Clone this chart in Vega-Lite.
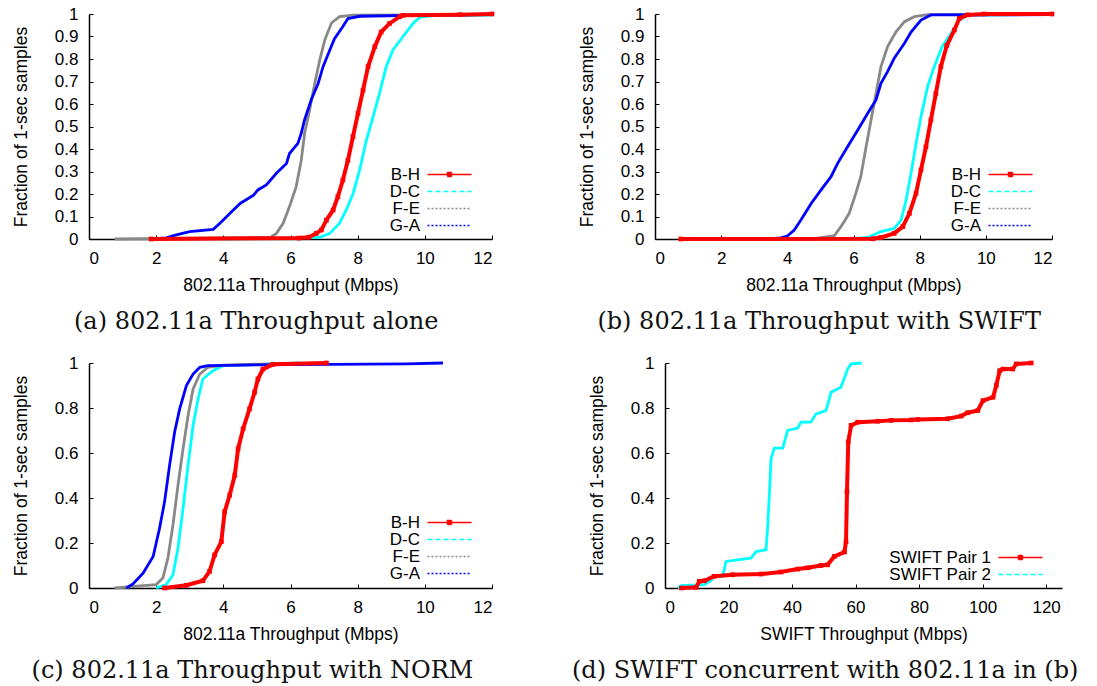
{
  "$schema": "https://vega.github.io/schema/vega-lite/v6.json",
  "padding": {"left": 12, "top": 5, "right": 5, "bottom": 5},
  "background": "white",
  "config": {
    "view": {"stroke": null},
    "axis": {"grid": false, "labelFontSize": 17, "titleFontSize": 17.5, "labelFont": "Liberation Sans", "titleFont": "Liberation Sans"},
    "legend": {"labelFontSize": 17, "labelFont": "Liberation Sans"},
    "title": {"font": "DejaVu Serif", "fontSize": 24}
  },
  "datasets": {
    "a": [
      {"s":"B-H","x":1.85,"f":0},{"s":"B-H","x":6.25,"f":0.004},{"s":"B-H","x":6.55,"f":0.008},{"s":"B-H","x":6.77,"f":0.025},{"s":"B-H","x":6.92,"f":0.04},{"s":"B-H","x":7.07,"f":0.084},{"s":"B-H","x":7.27,"f":0.129},{"s":"B-H","x":7.41,"f":0.188},{"s":"B-H","x":7.56,"f":0.262},{"s":"B-H","x":7.71,"f":0.35},{"s":"B-H","x":7.86,"f":0.455},{"s":"B-H","x":8.01,"f":0.559},{"s":"B-H","x":8.16,"f":0.662},{"s":"B-H","x":8.31,"f":0.766},{"s":"B-H","x":8.51,"f":0.855},{"s":"B-H","x":8.7,"f":0.92},{"s":"B-H","x":8.95,"f":0.958},{"s":"B-H","x":9.25,"f":0.988},{"s":"B-H","x":9.35,"f":0.994},{"s":"B-H","x":11.05,"f":0.997},{"s":"B-H","x":12,"f":1.0},
      {"s":"D-C","x":4.0,"f":0},{"s":"D-C","x":6.87,"f":0.007},{"s":"D-C","x":7.17,"f":0.025},{"s":"D-C","x":7.46,"f":0.07},{"s":"D-C","x":7.66,"f":0.129},{"s":"D-C","x":7.86,"f":0.2},{"s":"D-C","x":8.06,"f":0.307},{"s":"D-C","x":8.26,"f":0.44},{"s":"D-C","x":8.46,"f":0.544},{"s":"D-C","x":8.65,"f":0.647},{"s":"D-C","x":8.85,"f":0.766},{"s":"D-C","x":9.05,"f":0.84},{"s":"D-C","x":9.35,"f":0.9},{"s":"D-C","x":9.65,"f":0.958},{"s":"D-C","x":9.85,"f":0.985},{"s":"D-C","x":10.25,"f":0.993},{"s":"D-C","x":12,"f":0.995},
      {"s":"F-E","x":0.76,"f":0},{"s":"F-E","x":5.4,"f":0.007},{"s":"F-E","x":5.58,"f":0.025},{"s":"F-E","x":5.78,"f":0.07},{"s":"F-E","x":5.97,"f":0.144},{"s":"F-E","x":6.17,"f":0.233},{"s":"F-E","x":6.32,"f":0.35},{"s":"F-E","x":6.42,"f":0.47},{"s":"F-E","x":6.57,"f":0.573},{"s":"F-E","x":6.72,"f":0.69},{"s":"F-E","x":6.87,"f":0.795},{"s":"F-E","x":7.02,"f":0.884},{"s":"F-E","x":7.22,"f":0.96},{"s":"F-E","x":7.46,"f":0.988},{"s":"F-E","x":7.86,"f":0.995},{"s":"F-E","x":12,"f":0.997},
      {"s":"G-A","x":1.9,"f":0},{"s":"G-A","x":2.3,"f":0.005},{"s":"G-A","x":2.6,"f":0.018},{"s":"G-A","x":3.0,"f":0.033},{"s":"G-A","x":3.7,"f":0.043},{"s":"G-A","x":3.9,"f":0.07},{"s":"G-A","x":4.2,"f":0.114},{"s":"G-A","x":4.5,"f":0.158},{"s":"G-A","x":4.9,"f":0.195},{"s":"G-A","x":5.03,"f":0.218},{"s":"G-A","x":5.28,"f":0.24},{"s":"G-A","x":5.58,"f":0.292},{"s":"G-A","x":5.88,"f":0.336},{"s":"G-A","x":5.97,"f":0.38},{"s":"G-A","x":6.22,"f":0.425},{"s":"G-A","x":6.32,"f":0.47},{"s":"G-A","x":6.42,"f":0.53},{"s":"G-A","x":6.62,"f":0.62},{"s":"G-A","x":6.82,"f":0.69},{"s":"G-A","x":6.97,"f":0.766},{"s":"G-A","x":7.17,"f":0.84},{"s":"G-A","x":7.31,"f":0.89},{"s":"G-A","x":7.56,"f":0.944},{"s":"G-A","x":7.71,"f":0.98},{"s":"G-A","x":8.06,"f":0.99},{"s":"G-A","x":10.1,"f":0.995},{"s":"G-A","x":12,"f":0.997}
    ],
    "b": [
      {"s":"B-H","x":0.78,"f":0},{"s":"B-H","x":6.58,"f":0.001},{"s":"B-H","x":6.83,"f":0.007},{"s":"B-H","x":7.23,"f":0.025},{"s":"B-H","x":7.49,"f":0.055},{"s":"B-H","x":7.69,"f":0.114},{"s":"B-H","x":7.89,"f":0.203},{"s":"B-H","x":8.04,"f":0.307},{"s":"B-H","x":8.19,"f":0.41},{"s":"B-H","x":8.34,"f":0.529},{"s":"B-H","x":8.49,"f":0.647},{"s":"B-H","x":8.64,"f":0.766},{"s":"B-H","x":8.82,"f":0.86},{"s":"B-H","x":9.05,"f":0.929},{"s":"B-H","x":9.2,"f":0.981},{"s":"B-H","x":9.45,"f":0.996},{"s":"B-H","x":9.95,"f":1.0},{"s":"B-H","x":12,"f":1.0},
      {"s":"D-C","x":5.9,"f":0},{"s":"D-C","x":6.43,"f":0.007},{"s":"D-C","x":6.83,"f":0.033},{"s":"D-C","x":7.23,"f":0.047},{"s":"D-C","x":7.44,"f":0.084},{"s":"D-C","x":7.59,"f":0.173},{"s":"D-C","x":7.74,"f":0.292},{"s":"D-C","x":7.89,"f":0.425},{"s":"D-C","x":8.04,"f":0.544},{"s":"D-C","x":8.24,"f":0.677},{"s":"D-C","x":8.44,"f":0.766},{"s":"D-C","x":8.68,"f":0.855},{"s":"D-C","x":8.95,"f":0.914},{"s":"D-C","x":9.2,"f":0.973},{"s":"D-C","x":9.45,"f":0.994},{"s":"D-C","x":12,"f":1.0},
      {"s":"F-E","x":4.5,"f":0},{"s":"F-E","x":4.8,"f":0.002},{"s":"F-E","x":5.42,"f":0.015},{"s":"F-E","x":5.62,"f":0.055},{"s":"F-E","x":5.87,"f":0.114},{"s":"F-E","x":6.07,"f":0.203},{"s":"F-E","x":6.22,"f":0.277},{"s":"F-E","x":6.38,"f":0.41},{"s":"F-E","x":6.53,"f":0.529},{"s":"F-E","x":6.68,"f":0.647},{"s":"F-E","x":6.83,"f":0.766},{"s":"F-E","x":7.03,"f":0.855},{"s":"F-E","x":7.28,"f":0.92},{"s":"F-E","x":7.54,"f":0.966},{"s":"F-E","x":7.84,"f":0.988},{"s":"F-E","x":8.24,"f":0.997},{"s":"F-E","x":12,"f":0.998},
      {"s":"G-A","x":3.4,"f":0},{"s":"G-A","x":3.8,"f":0.005},{"s":"G-A","x":4.0,"f":0.013},{"s":"G-A","x":4.21,"f":0.04},{"s":"G-A","x":4.41,"f":0.084},{"s":"G-A","x":4.72,"f":0.158},{"s":"G-A","x":5.02,"f":0.218},{"s":"G-A","x":5.32,"f":0.277},{"s":"G-A","x":5.52,"f":0.336},{"s":"G-A","x":5.82,"f":0.41},{"s":"G-A","x":6.13,"f":0.484},{"s":"G-A","x":6.43,"f":0.559},{"s":"G-A","x":6.68,"f":0.618},{"s":"G-A","x":6.83,"f":0.692},{"s":"G-A","x":7.03,"f":0.744},{"s":"G-A","x":7.23,"f":0.803},{"s":"G-A","x":7.54,"f":0.87},{"s":"G-A","x":7.74,"f":0.92},{"s":"G-A","x":8.04,"f":0.973},{"s":"G-A","x":8.34,"f":0.996},{"s":"G-A","x":12,"f":0.997}
    ],
    "c": [
      {"s":"B-H","x":2.25,"f":0},{"s":"B-H","x":2.9,"f":0.012},{"s":"B-H","x":3.39,"f":0.032},{"s":"B-H","x":3.59,"f":0.074},{"s":"B-H","x":3.74,"f":0.147},{"s":"B-H","x":3.94,"f":0.206},{"s":"B-H","x":4.04,"f":0.339},{"s":"B-H","x":4.19,"f":0.413},{"s":"B-H","x":4.34,"f":0.501},{"s":"B-H","x":4.44,"f":0.619},{"s":"B-H","x":4.59,"f":0.708},{"s":"B-H","x":4.78,"f":0.796},{"s":"B-H","x":4.93,"f":0.87},{"s":"B-H","x":5.03,"f":0.929},{"s":"B-H","x":5.18,"f":0.973},{"s":"B-H","x":5.48,"f":0.994},{"s":"B-H","x":7.07,"f":1.0},
      {"s":"D-C","x":2.0,"f":0},{"s":"D-C","x":2.3,"f":0.015},{"s":"D-C","x":2.5,"f":0.059},{"s":"D-C","x":2.65,"f":0.177},{"s":"D-C","x":2.8,"f":0.354},{"s":"D-C","x":2.95,"f":0.546},{"s":"D-C","x":3.1,"f":0.723},{"s":"D-C","x":3.25,"f":0.841},{"s":"D-C","x":3.39,"f":0.929},{"s":"D-C","x":3.69,"f":0.966},{"s":"D-C","x":3.99,"f":0.988},{"s":"D-C","x":6.27,"f":1.0},
      {"s":"F-E","x":0.76,"f":0},{"s":"F-E","x":2.0,"f":0.015},{"s":"F-E","x":2.2,"f":0.044},{"s":"F-E","x":2.35,"f":0.133},{"s":"F-E","x":2.5,"f":0.28},{"s":"F-E","x":2.65,"f":0.457},{"s":"F-E","x":2.8,"f":0.619},{"s":"F-E","x":2.95,"f":0.767},{"s":"F-E","x":3.1,"f":0.885},{"s":"F-E","x":3.3,"f":0.951},{"s":"F-E","x":3.54,"f":0.981},{"s":"F-E","x":3.99,"f":0.991},{"s":"F-E","x":6,"f":0.998},
      {"s":"G-A","x":1.11,"f":0},{"s":"G-A","x":1.31,"f":0.018},{"s":"G-A","x":1.61,"f":0.066},{"s":"G-A","x":1.91,"f":0.14},{"s":"G-A","x":2.1,"f":0.265},{"s":"G-A","x":2.25,"f":0.383},{"s":"G-A","x":2.4,"f":0.546},{"s":"G-A","x":2.55,"f":0.693},{"s":"G-A","x":2.7,"f":0.796},{"s":"G-A","x":2.9,"f":0.9},{"s":"G-A","x":3.1,"f":0.951},{"s":"G-A","x":3.3,"f":0.981},{"s":"G-A","x":3.54,"f":0.988},{"s":"G-A","x":4.59,"f":0.991},{"s":"G-A","x":9.45,"f":0.996},{"s":"G-A","x":10.54,"f":1.0}
    ],
    "d": [
      {"s":"SWIFT Pair 1","x":5.2,"f":0},{"s":"SWIFT Pair 1","x":9.8,"f":0.003},{"s":"SWIFT Pair 1","x":10.8,"f":0.03},{"s":"SWIFT Pair 1","x":12.4,"f":0.032},{"s":"SWIFT Pair 1","x":15.5,"f":0.052},{"s":"SWIFT Pair 1","x":21.3,"f":0.059},{"s":"SWIFT Pair 1","x":30.2,"f":0.062},{"s":"SWIFT Pair 1","x":36.5,"f":0.071},{"s":"SWIFT Pair 1","x":41.8,"f":0.084},{"s":"SWIFT Pair 1","x":45,"f":0.09},{"s":"SWIFT Pair 1","x":49.1,"f":0.1},{"s":"SWIFT Pair 1","x":51.2,"f":0.103},{"s":"SWIFT Pair 1","x":53.3,"f":0.14},{"s":"SWIFT Pair 1","x":56.5,"f":0.16},{"s":"SWIFT Pair 1","x":57.0,"f":0.206},{"s":"SWIFT Pair 1","x":57.3,"f":0.428},{"s":"SWIFT Pair 1","x":57.7,"f":0.649},{"s":"SWIFT Pair 1","x":58.6,"f":0.723},{"s":"SWIFT Pair 1","x":60.7,"f":0.737},{"s":"SWIFT Pair 1","x":67,"f":0.741},{"s":"SWIFT Pair 1","x":71.2,"f":0.745},{"s":"SWIFT Pair 1","x":77.5,"f":0.747},{"s":"SWIFT Pair 1","x":79.6,"f":0.749},{"s":"SWIFT Pair 1","x":89,"f":0.752},{"s":"SWIFT Pair 1","x":93.2,"f":0.764},{"s":"SWIFT Pair 1","x":95.3,"f":0.779},{"s":"SWIFT Pair 1","x":98.5,"f":0.789},{"s":"SWIFT Pair 1","x":100.1,"f":0.833},{"s":"SWIFT Pair 1","x":103.3,"f":0.848},{"s":"SWIFT Pair 1","x":104.3,"f":0.9},{"s":"SWIFT Pair 1","x":105.4,"f":0.966},{"s":"SWIFT Pair 1","x":106.4,"f":0.973},{"s":"SWIFT Pair 1","x":109.5,"f":0.973},{"s":"SWIFT Pair 1","x":110.6,"f":0.996},{"s":"SWIFT Pair 1","x":115.3,"f":1.0},
      {"s":"SWIFT Pair 2","x":4.0,"f":0},{"s":"SWIFT Pair 2","x":5.0,"f":0.01},{"s":"SWIFT Pair 2","x":12.4,"f":0.015},{"s":"SWIFT Pair 2","x":14.5,"f":0.032},{"s":"SWIFT Pair 2","x":15.5,"f":0.052},{"s":"SWIFT Pair 2","x":18.2,"f":0.052},{"s":"SWIFT Pair 2","x":19.2,"f":0.118},{"s":"SWIFT Pair 2","x":22.9,"f":0.125},{"s":"SWIFT Pair 2","x":27.1,"f":0.133},{"s":"SWIFT Pair 2","x":28.7,"f":0.162},{"s":"SWIFT Pair 2","x":31.8,"f":0.17},{"s":"SWIFT Pair 2","x":32.3,"f":0.265},{"s":"SWIFT Pair 2","x":32.9,"f":0.428},{"s":"SWIFT Pair 2","x":33.4,"f":0.575},{"s":"SWIFT Pair 2","x":34.4,"f":0.622},{"s":"SWIFT Pair 2","x":37.1,"f":0.622},{"s":"SWIFT Pair 2","x":38.6,"f":0.7},{"s":"SWIFT Pair 2","x":41.8,"f":0.711},{"s":"SWIFT Pair 2","x":42.8,"f":0.737},{"s":"SWIFT Pair 2","x":45.9,"f":0.737},{"s":"SWIFT Pair 2","x":47.6,"f":0.774},{"s":"SWIFT Pair 2","x":50.7,"f":0.789},{"s":"SWIFT Pair 2","x":52.3,"f":0.87},{"s":"SWIFT Pair 2","x":55.4,"f":0.892},{"s":"SWIFT Pair 2","x":57.5,"f":0.973},{"s":"SWIFT Pair 2","x":58.6,"f":0.996},{"s":"SWIFT Pair 2","x":61.9,"f":1.0}
    ]
  },
  "resolve": {"scale": {"color": "independent", "x": "independent", "y": "independent"}, "legend": {"color": "independent"}},
  "spacing": 20,
  "vconcat": [
    {
      "spacing": 78,
      "resolve": {"scale": {"color": "independent", "x": "independent", "y": "independent"}, "legend": {"color": "independent"}},
      "hconcat": [
        {
          "width": 403, "height": 225,
          "data": {"name": "a"},
          "title": {"text": "(a) 802.11a Throughput alone", "orient": "bottom", "anchor": "middle", "frame": "bounds", "font": "DejaVu Serif", "fontSize": 24, "fontWeight": "normal", "color": "#111", "offset": 16},
          "encoding": {
            "x": {"field": "x", "type": "quantitative", "scale": {"domain": [0, 12], "nice": false},
              "axis": {"values": [0,2,4,6,8,10,12], "title": "802.11a Throughput (Mbps)", "grid": false, "domainColor": "black", "domainWidth": 1.5, "tickColor": "black", "tickSize": -4, "labelPadding": 15, "labelFont": "Liberation Sans", "labelFontSize": 17, "labelColor": "black", "titleFont": "Liberation Sans", "titleFontSize": 17.5, "titleFontWeight": "normal", "titleColor": "black", "titlePadding": 10}},
            "y": {"field": "f", "type": "quantitative", "scale": {"domain": [0, 1], "nice": false},
              "axis": {"values": [0,0.1,0.2,0.3,0.4,0.5,0.6,0.7,0.8,0.9,1], "format": "~g", "title": "Fraction of 1-sec samples", "grid": false, "domainColor": "black", "domainWidth": 1.5, "tickColor": "black", "tickSize": -4, "labelPadding": 15, "labelFont": "Liberation Sans", "labelFontSize": 17, "labelColor": "black", "titleFont": "Liberation Sans", "titleFontSize": 17.5, "titleFontWeight": "normal", "titleColor": "black", "titlePadding": 24}},
            "color": {"field": "s", "type": "nominal", "scale": {"domain": ["B-H","D-C","F-E","G-A"], "range": ["#ff0000","#00ffff","#888888","#0000ff"]},
              "legend": {"title": null, "orient": "none", "legendX": 352, "legendY": 152, "symbolType": "M-4.4,0H4.4", "symbolSize": 100, "symbolStrokeWidth": 1.5, "labelAlign": "right", "labelOffset": -38, "labelFont": "Liberation Sans", "labelFontSize": 17, "labelColor": "black", "rowPadding": -1, "padding": 0,
                "encode": {"symbols": {"update": {
                  "shape": {"signal": "datum.label == 'B-H' ? 'M-4.4,0H4.4M-0.4,-0.4H0.4V0.4H-0.4Z' : 'M-4.4,0H4.4'"},
                  "stroke": {"signal": "datum.label == 'B-H' ? '#ff0000' : datum.label == 'D-C' ? '#00ffff' : datum.label == 'F-E' ? '#888888' : '#0000ff'"},
                  "fill": {"signal": "datum.label == 'B-H' ? '#ff0000' : 'transparent'"},
                  "strokeWidth": {"value": 1.5}, "opacity": {"value": 1},
                  "strokeDash": {"signal": "datum.label == 'D-C' ? [5,3] : (datum.label == 'B-H' ? [1,0] : [2,2])"}}}}}}
          },
          "layer": [
            {"transform": [{"filter": "datum.s != 'B-H'"}], "mark": {"type": "line", "strokeWidth": 2.8}},
            {"transform": [{"filter": "datum.s == 'B-H'"}], "mark": {"type": "line", "strokeWidth": 4}},
            {"transform": [{"filter": "datum.s == 'B-H'"}], "mark": {"type": "point", "shape": "square", "filled": true, "size": 22, "color": "#ff0000", "opacity": 1}, "encoding": {"color": {"value": "#ff0000"}}}
          ]
        },
        {
          "width": 397, "height": 225,
          "data": {"name": "b"},
          "title": {"text": "(b) 802.11a Throughput with SWIFT", "orient": "bottom", "anchor": "middle", "frame": "bounds", "font": "DejaVu Serif", "fontSize": 24, "fontWeight": "normal", "color": "#111", "offset": 16},
          "encoding": {
            "x": {"field": "x", "type": "quantitative", "scale": {"domain": [0, 12], "nice": false},
              "axis": {"values": [0,2,4,6,8,10,12], "title": "802.11a Throughput (Mbps)", "grid": false, "domainColor": "black", "domainWidth": 1.5, "tickColor": "black", "tickSize": -4, "labelPadding": 15, "labelFont": "Liberation Sans", "labelFontSize": 17, "labelColor": "black", "titleFont": "Liberation Sans", "titleFontSize": 17.5, "titleFontWeight": "normal", "titleColor": "black", "titlePadding": 10}},
            "y": {"field": "f", "type": "quantitative", "scale": {"domain": [0, 1], "nice": false},
              "axis": {"values": [0,0.1,0.2,0.3,0.4,0.5,0.6,0.7,0.8,0.9,1], "format": "~g", "title": "Fraction of 1-sec samples", "grid": false, "domainColor": "black", "domainWidth": 1.5, "tickColor": "black", "tickSize": -4, "labelPadding": 15, "labelFont": "Liberation Sans", "labelFontSize": 17, "labelColor": "black", "titleFont": "Liberation Sans", "titleFontSize": 17.5, "titleFontWeight": "normal", "titleColor": "black", "titlePadding": 24}},
            "color": {"field": "s", "type": "nominal", "scale": {"domain": ["B-H","D-C","F-E","G-A"], "range": ["#ff0000","#00ffff","#888888","#0000ff"]},
              "legend": {"title": null, "orient": "none", "legendX": 347, "legendY": 152, "symbolType": "M-4.4,0H4.4", "symbolSize": 100, "symbolStrokeWidth": 1.5, "labelAlign": "right", "labelOffset": -38, "labelFont": "Liberation Sans", "labelFontSize": 17, "labelColor": "black", "rowPadding": -1, "padding": 0,
                "encode": {"symbols": {"update": {
                  "shape": {"signal": "datum.label == 'B-H' ? 'M-4.4,0H4.4M-0.4,-0.4H0.4V0.4H-0.4Z' : 'M-4.4,0H4.4'"},
                  "stroke": {"signal": "datum.label == 'B-H' ? '#ff0000' : datum.label == 'D-C' ? '#00ffff' : datum.label == 'F-E' ? '#888888' : '#0000ff'"},
                  "fill": {"signal": "datum.label == 'B-H' ? '#ff0000' : 'transparent'"},
                  "strokeWidth": {"value": 1.5}, "opacity": {"value": 1},
                  "strokeDash": {"signal": "datum.label == 'D-C' ? [5,3] : (datum.label == 'B-H' ? [1,0] : [2,2])"}}}}}}
          },
          "layer": [
            {"transform": [{"filter": "datum.s != 'B-H'"}], "mark": {"type": "line", "strokeWidth": 2.8}},
            {"transform": [{"filter": "datum.s == 'B-H'"}], "mark": {"type": "line", "strokeWidth": 4}},
            {"transform": [{"filter": "datum.s == 'B-H'"}], "mark": {"type": "point", "shape": "square", "filled": true, "size": 22, "color": "#ff0000", "opacity": 1}, "encoding": {"color": {"value": "#ff0000"}}}
          ]
        }
      ]
    },
    {
      "spacing": 78,
      "resolve": {"scale": {"color": "independent", "x": "independent", "y": "independent"}, "legend": {"color": "independent"}},
      "hconcat": [
        {
          "width": 403, "height": 225,
          "data": {"name": "c"},
          "title": {"text": "(c) 802.11a Throughput with NORM", "orient": "bottom", "anchor": "middle", "frame": "bounds", "font": "DejaVu Serif", "fontSize": 24, "fontWeight": "normal", "color": "#111", "offset": 16},
          "encoding": {
            "x": {"field": "x", "type": "quantitative", "scale": {"domain": [0, 12], "nice": false},
              "axis": {"values": [0,2,4,6,8,10,12], "title": "802.11a Throughput (Mbps)", "grid": false, "domainColor": "black", "domainWidth": 1.5, "tickColor": "black", "tickSize": -4, "labelPadding": 15, "labelFont": "Liberation Sans", "labelFontSize": 17, "labelColor": "black", "titleFont": "Liberation Sans", "titleFontSize": 17.5, "titleFontWeight": "normal", "titleColor": "black", "titlePadding": 10}},
            "y": {"field": "f", "type": "quantitative", "scale": {"domain": [0, 1], "nice": false},
              "axis": {"values": [0,0.2,0.4,0.6,0.8,1], "format": "~g", "title": "Fraction of 1-sec samples", "grid": false, "domainColor": "black", "domainWidth": 1.5, "tickColor": "black", "tickSize": -4, "labelPadding": 15, "labelFont": "Liberation Sans", "labelFontSize": 17, "labelColor": "black", "titleFont": "Liberation Sans", "titleFontSize": 17.5, "titleFontWeight": "normal", "titleColor": "black", "titlePadding": 24}},
            "color": {"field": "s", "type": "nominal", "scale": {"domain": ["B-H","D-C","F-E","G-A"], "range": ["#ff0000","#00ffff","#888888","#0000ff"]},
              "legend": {"title": null, "orient": "none", "legendX": 352, "legendY": 151, "symbolType": "M-4.4,0H4.4", "symbolSize": 100, "symbolStrokeWidth": 1.5, "labelAlign": "right", "labelOffset": -38, "labelFont": "Liberation Sans", "labelFontSize": 17, "labelColor": "black", "rowPadding": -1, "padding": 0,
                "encode": {"symbols": {"update": {
                  "shape": {"signal": "datum.label == 'B-H' ? 'M-4.4,0H4.4M-0.4,-0.4H0.4V0.4H-0.4Z' : 'M-4.4,0H4.4'"},
                  "stroke": {"signal": "datum.label == 'B-H' ? '#ff0000' : datum.label == 'D-C' ? '#00ffff' : datum.label == 'F-E' ? '#888888' : '#0000ff'"},
                  "fill": {"signal": "datum.label == 'B-H' ? '#ff0000' : 'transparent'"},
                  "strokeWidth": {"value": 1.5}, "opacity": {"value": 1},
                  "strokeDash": {"signal": "datum.label == 'D-C' ? [5,3] : (datum.label == 'B-H' ? [1,0] : [2,2])"}}}}}}
          },
          "layer": [
            {"transform": [{"filter": "datum.s != 'B-H'"}], "mark": {"type": "line", "strokeWidth": 2.8}},
            {"transform": [{"filter": "datum.s == 'B-H'"}], "mark": {"type": "line", "strokeWidth": 4}},
            {"transform": [{"filter": "datum.s == 'B-H'"}], "mark": {"type": "point", "shape": "square", "filled": true, "size": 22, "color": "#ff0000", "opacity": 1}, "encoding": {"color": {"value": "#ff0000"}}}
          ]
        },
        {
          "width": 397, "height": 225,
          "data": {"name": "d"},
          "title": {"text": "(d) SWIFT concurrent with 802.11a in (b)", "orient": "bottom", "anchor": "middle", "frame": "bounds", "font": "DejaVu Serif", "fontSize": 24, "fontWeight": "normal", "color": "#111", "offset": 16},
          "encoding": {
            "x": {"field": "x", "type": "quantitative", "scale": {"domain": [0, 125], "nice": false},
              "axis": {"values": [0,20,40,60,80,100,120], "title": "SWIFT Throughput (Mbps)", "grid": false, "domainColor": "black", "domainWidth": 1.5, "tickColor": "black", "tickSize": -4, "labelPadding": 15, "labelFont": "Liberation Sans", "labelFontSize": 17, "labelColor": "black", "titleFont": "Liberation Sans", "titleFontSize": 17.5, "titleFontWeight": "normal", "titleColor": "black", "titlePadding": 10}},
            "y": {"field": "f", "type": "quantitative", "scale": {"domain": [0, 1], "nice": false},
              "axis": {"values": [0,0.2,0.4,0.6,0.8,1], "format": "~g", "title": "Fraction of 1-sec samples", "grid": false, "domainColor": "black", "domainWidth": 1.5, "tickColor": "black", "tickSize": -4, "labelPadding": 15, "labelFont": "Liberation Sans", "labelFontSize": 17, "labelColor": "black", "titleFont": "Liberation Sans", "titleFontSize": 17.5, "titleFontWeight": "normal", "titleColor": "black", "titlePadding": 24}},
            "color": {"field": "s", "type": "nominal", "scale": {"domain": ["SWIFT Pair 1","SWIFT Pair 2"], "range": ["#ff0000","#00ffff"]},
              "legend": {"title": null, "orient": "none", "legendX": 347, "legendY": 186, "symbolType": "M-4.4,0H4.4", "symbolSize": 100, "symbolStrokeWidth": 1.5, "labelAlign": "right", "labelOffset": -38, "labelFont": "Liberation Sans", "labelFontSize": 17, "labelColor": "black", "rowPadding": -1, "padding": 0,
                "encode": {"symbols": {"update": {
                  "shape": {"signal": "datum.label == 'SWIFT Pair 1' ? 'M-4.4,0H4.4M-0.4,-0.4H0.4V0.4H-0.4Z' : 'M-4.4,0H4.4'"},
                  "stroke": {"signal": "datum.label == 'SWIFT Pair 1' ? '#ff0000' : '#00ffff'"},
                  "fill": {"signal": "datum.label == 'SWIFT Pair 1' ? '#ff0000' : 'transparent'"},
                  "strokeWidth": {"value": 1.5}, "opacity": {"value": 1},
                  "strokeDash": {"signal": "datum.label == 'SWIFT Pair 2' ? [5,3] : [1,0]"}}}}}}
          },
          "layer": [
            {"transform": [{"filter": "datum.s != 'SWIFT Pair 1'"}], "mark": {"type": "line", "strokeWidth": 2.8}},
            {"transform": [{"filter": "datum.s == 'SWIFT Pair 1'"}], "mark": {"type": "line", "strokeWidth": 4}},
            {"transform": [{"filter": "datum.s == 'SWIFT Pair 1'"}], "mark": {"type": "point", "shape": "square", "filled": true, "size": 22, "color": "#ff0000", "opacity": 1}, "encoding": {"color": {"value": "#ff0000"}}}
          ]
        }
      ]
    }
  ]
}
